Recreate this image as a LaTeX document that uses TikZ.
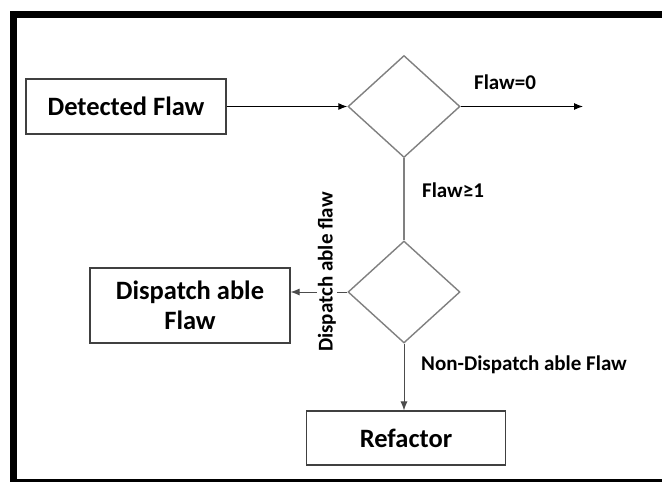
\documentclass[tikz,border=0pt]{standalone}
\usepackage{fontspec}
\setmainfont{Carlito}
\usetikzlibrary{shapes.geometric, positioning, arrows.meta}

\begin{document}
\begin{tikzpicture}[
        x=1pt, y=-1pt,
        process/.style={draw=black!75, line width=1.1pt, rectangle, minimum width=200pt, align=center, font=\fontsize{26.5}{30}\selectfont\bfseries},
        decision/.style={draw=black!50, line width=1.4pt, diamond, inner sep=0pt, minimum width=112pt, minimum height=102pt},
        tag/.style={font=\fontsize{21}{24}\selectfont\bfseries, inner sep=1pt},
        flow/.style={line width=1pt, -{Latex[length=9pt,width=7pt]}}
    ]
        \useasboundingbox (0,0) rectangle (662,482);
        \fill[white] (0,0) rectangle (662,482);
        % Frame
        \draw[line width=7pt] (662,14.5) -- (13.5,14.5) -- (13.5,482) -- (662,482);

        % Nodes
        \node[process, minimum height=55pt] (detected) at (126,106.5) {Detected Flaw};
        \node[decision] (check) at (404,106.5) {};
        \node[decision] (sort) at (404,292) {};
        \node[process, minimum height=75pt] (dispatch) at (190,305.5) {Dispatch able\\Flaw};
        \node[process, minimum height=54pt, minimum width=199pt] (refactor) at (406,438) {Refactor};
        \coordinate (done) at (583,106.5);

        % Labels
        \node[tag] (zero) at (505,82) {Flaw=0};
        \node[tag] (some) at (453,190) {Flaw≥1};
        \node[tag] (nondisp) at (524,365) {Non-Dispatch able Flaw};

        % Edges
        \draw[flow] (detected) -- (check);
        \draw[flow] (check.east) -- (done);
        \draw[draw=black!50, line width=1.4pt] (check.south) -- (sort.north);
        \draw[flow, draw=black!70] (sort.west) -- (sort.west -| dispatch.east);
        \draw[flow, draw=black!70] (sort.south) -- (sort.south |- refactor.north);
        \node[tag, fill=white, rotate=90] (disp) at (327,272) {Dispatch able flaw};
    \end{tikzpicture}
\end{document}
